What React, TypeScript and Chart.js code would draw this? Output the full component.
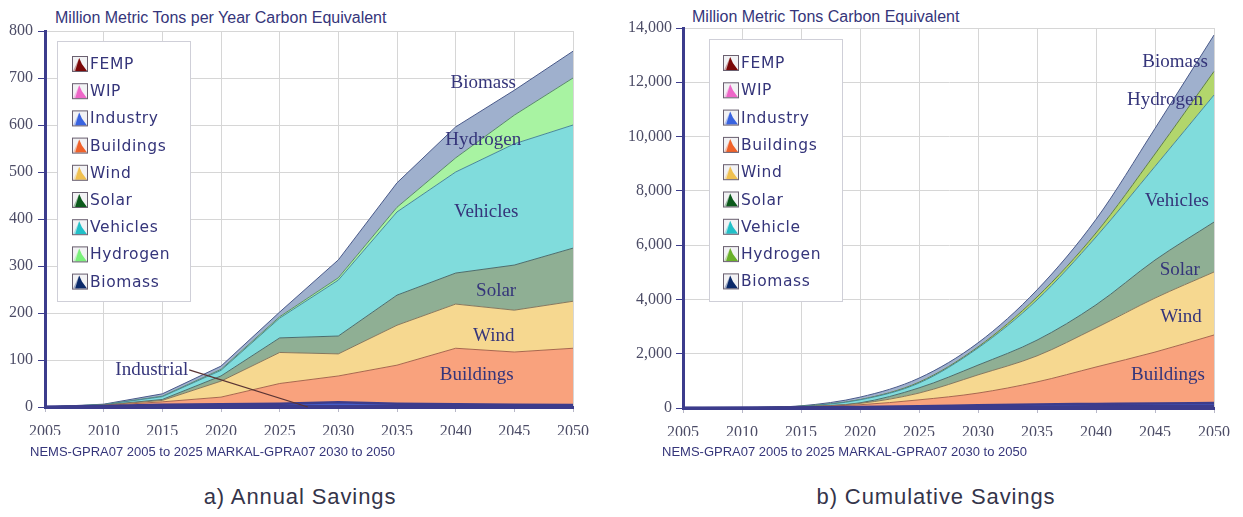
import React, { useEffect, useRef } from "react";
import { Chart, registerables } from "chart.js";

Chart.register(...registerables);

// ---- data -------------------------------------------------------------
const years = ["2005", "2010", "2015", "2020", "2025", "2030", "2035", "2040", "2045", "2050"];

// Annual savings (million metric tons carbon equivalent per year), stacked bottom to top
const annualFemp = [0, 0.5, 1, 1, 1, 1, 1, 1, 1, 1];
const annualWip = [0, 0.5, 1, 1, 1, 1, 1, 1, 1, 1];
const annualIndustry = [0, 1, 3, 4, 5, 8, 5, 4, 3, 2];
const annualBuildings = [0, 1, 6, 15, 43, 56, 82, 119, 112, 121];
const annualWind = [0, 1, 3, 34, 66, 47, 85, 94, 89, 100];
const annualSolar = [0, 0, 2, 11, 31, 38, 64, 66, 96, 113];
const annualVehicles = [0, 1, 6, 12, 42, 119, 177, 215, 258, 262];
const annualHydrogen = [0, 0, 1, 2, 3, 5, 10, 30, 61, 100];
const annualBiomass = [0, 1, 5, 7, 10, 38, 52, 66, 53, 57];

// Cumulative savings (million metric tons carbon equivalent), stacked bottom to top
const cumFemp = [0, 2, 5, 10, 15, 20, 25, 30, 35, 40];
const cumWip = [0, 1, 5, 10, 15, 20, 25, 30, 35, 40];
const cumIndustry = [0, 2, 10, 20, 30, 60, 80, 90, 100, 100];
const cumBuildings = [0, 3, 20, 80, 240, 450, 830, 1360, 1890, 2510];
const cumWind = [0, 2, 10, 50, 250, 670, 960, 1440, 1990, 2320];
const cumSolar = [0, 0, 5, 20, 190, 360, 580, 850, 1400, 1840];
const cumVehicles = [0, 2, 10, 110, 180, 630, 1480, 2500, 3450, 4680];
const cumHydrogen = [0, 0, 1, 10, 30, 40, 110, 150, 460, 870];
const cumBiomass = [0, 2, 14, 90, 150, 150, 260, 500, 940, 1340];

const annualTicks = { min: 0, max: 800, step: 100 };
const cumulativeTicks = { min: 0, max: 14000, step: 2000 };

// ---- styling ----------------------------------------------------------
const NAVY = "#3c3c8c";
const TEXT = "#35357a";
const SERIF = '"Liberation Serif", "Times New Roman", serif';
const SANS = '"Liberation Sans", Arial, sans-serif';

type Series = { label: string; values: number[]; fill: string; border: string; width: number };

const styleFemp = { fill: "#7a0c0c", border: NAVY, width: 2.5 };
const styleWip = { fill: "#ee7acd", border: NAVY, width: 2.5 };
const styleIndustry = { fill: "#4a68dc", border: NAVY, width: 2.5 };
const styleBuildings = { fill: "#f9a27d", border: "#a8684e", width: 1 };
const styleWind = { fill: "#f6d890", border: "#86785e", width: 1 };
const styleSolar = { fill: "#8faf94", border: "#4c6e6e", width: 1 };
const styleVehicles = { fill: "#80dcdc", border: "#4a8898", width: 1 };
const styleBiomass = { fill: "#9fb0cd", border: "#4a5a8a", width: 1 };

const annualSeries: Series[] = [
  { label: "FEMP", values: annualFemp, ...styleFemp },
  { label: "WIP", values: annualWip, ...styleWip },
  { label: "Industry", values: annualIndustry, ...styleIndustry },
  { label: "Buildings", values: annualBuildings, ...styleBuildings },
  { label: "Wind", values: annualWind, ...styleWind },
  { label: "Solar", values: annualSolar, ...styleSolar },
  { label: "Vehicles", values: annualVehicles, ...styleVehicles },
  { label: "Hydrogen", values: annualHydrogen, fill: "#a8f3a2", border: "#5a8a6a", width: 1 },
  { label: "Biomass", values: annualBiomass, ...styleBiomass },
];

const cumulativeSeries: Series[] = [
  { label: "FEMP", values: cumFemp, ...styleFemp },
  { label: "WIP", values: cumWip, ...styleWip },
  { label: "Industry", values: cumIndustry, ...styleIndustry },
  { label: "Buildings", values: cumBuildings, ...styleBuildings },
  { label: "Wind", values: cumWind, ...styleWind },
  { label: "Solar", values: cumSolar, ...styleSolar },
  { label: "Vehicle", values: cumVehicles, ...styleVehicles },
  { label: "Hydrogen", values: cumHydrogen, fill: "#b2d66c", border: "#5f7f45", width: 1 },
  { label: "Biomass", values: cumBiomass, ...styleBiomass },
];

// legend icon colours (deeper than the area fills)
const annualIconColors: Record<string, string> = {
  FEMP: "#7a0808",
  WIP: "#ee66c8",
  Industry: "#3a64e0",
  Buildings: "#f0622a",
  Wind: "#f0c050",
  Solar: "#0c5a1c",
  Vehicles: "#22c0c8",
  Hydrogen: "#7af07a",
  Biomass: "#0c2a6a",
};
const cumulativeIconColors: Record<string, string> = {
  ...annualIconColors,
  Vehicle: "#22c0c8",
  Hydrogen: "#6ab02a",
};

type Note = { text: string; idx: number; value: number };
type Pointer = { text: string; idx: number; value: number; toIdx: number; toValue: number };

const annualNotes: Note[] = [
  { text: "Biomass", idx: 7.47, value: 689 },
  { text: "Hydrogen", idx: 7.47, value: 568 },
  { text: "Vehicles", idx: 7.52, value: 415 },
  { text: "Solar", idx: 7.69, value: 247 },
  { text: "Wind", idx: 7.65, value: 151 },
  { text: "Buildings", idx: 7.36, value: 68 },
];
const annualPointer: Pointer = { text: "Industrial", idx: 1.82, value: 79, toIdx: 4.48, toValue: 0 };

const cumulativeNotes: Note[] = [
  { text: "Biomass", idx: 8.34, value: 12750 },
  { text: "Hydrogen", idx: 8.17, value: 11350 },
  { text: "Vehicles", idx: 8.37, value: 7630 },
  { text: "Solar", idx: 8.42, value: 5085 },
  { text: "Wind", idx: 8.44, value: 3350 },
  { text: "Buildings", idx: 8.22, value: 1215 },
];

type LegendBox = { x: number; y: number; w: number; h: number; rowY: number; rowStep: number; iconX: number; textX: number };

type PanelProps = {
  series: Series[];
  iconColors: Record<string, string>;
  ticks: { min: number; max: number; step: number };
  notes: Note[];
  pointer?: Pointer;
  legendBox: LegendBox;
  smooth: boolean;
  left: number;
  width: number;
  axisWidth: number;
  padding: { left: number; right: number; top: number; bottom: number };
  thousands: boolean;
};

function drawIcon(ctx: CanvasRenderingContext2D, x: number, y: number, s: number, color: string) {
  ctx.fillStyle = "#f2f2f4";
  ctx.fillRect(x, y, s, s);
  ctx.fillStyle = color;
  ctx.globalAlpha = 0.35;
  ctx.beginPath();
  ctx.moveTo(x + 1, y + s - 1);
  ctx.lineTo(x + s * 0.45, y + 2);
  ctx.lineTo(x + s * 0.45, y + s - 1);
  ctx.closePath();
  ctx.fill();
  ctx.globalAlpha = 1;
  ctx.beginPath();
  ctx.moveTo(x + s * 0.2, y + s - 1);
  ctx.lineTo(x + s * 0.45, y + 2);
  ctx.lineTo(x + s * 0.62, y + s * 0.5);
  ctx.lineTo(x + s - 1, y + s - 1);
  ctx.closePath();
  ctx.fill();
  ctx.strokeStyle = "#6a6070";
  ctx.lineWidth = 1;
  ctx.strokeRect(x + 0.5, y + 0.5, s - 1, s - 1);
}

function ChartPanel(props: PanelProps) {
  const ref = useRef<HTMLCanvasElement | null>(null);

  useEffect(() => {
    const canvas = ref.current;
    if (!canvas) return;
    const { series, iconColors, ticks, notes, pointer, legendBox, smooth, axisWidth, padding, thousands } = props;

    const overlay = {
      id: "overlay",
      afterDraw(chart: any) {
        const ctx: CanvasRenderingContext2D = chart.ctx;
        const xs = chart.scales.x;
        const ys = chart.scales.y;
        ctx.save();

        // in-plot area labels
        ctx.font = `19px ${SERIF}`;
        ctx.fillStyle = TEXT;
        ctx.textAlign = "center";
        ctx.textBaseline = "middle";
        notes.forEach((n) => {
          ctx.fillText(n.text, xs.getPixelForValue(n.idx), ys.getPixelForValue(n.value));
        });
        if (pointer) {
          const px = xs.getPixelForValue(pointer.idx);
          const py = ys.getPixelForValue(pointer.value);
          ctx.fillText(pointer.text, px, py);
          const tw = ctx.measureText(pointer.text).width;
          ctx.strokeStyle = "#5a3434";
          ctx.lineWidth = 1.2;
          ctx.beginPath();
          ctx.moveTo(px + tw / 2 + 1, py);
          ctx.lineTo(xs.getPixelForValue(pointer.toIdx), ys.getPixelForValue(pointer.toValue));
          ctx.stroke();
        }

        // legend box
        const L = legendBox;
        ctx.fillStyle = "#ffffff";
        ctx.fillRect(L.x, L.y, L.w, L.h);
        ctx.strokeStyle = "#cfcfd8";
        ctx.lineWidth = 1;
        ctx.strokeRect(L.x + 0.5, L.y + 0.5, L.w, L.h);
        ctx.textAlign = "left";
        ctx.textBaseline = "middle";
        ctx.font = `15.5px "DejaVu Sans", Verdana, sans-serif`;
        (ctx as any).letterSpacing = "0.6px";
        series.forEach((s, i) => {
          const cy = L.rowY + i * L.rowStep;
          drawIcon(ctx, L.iconX, cy - 8, 16, iconColors[s.label] || s.fill);
          ctx.fillStyle = TEXT;
          ctx.fillText(s.label, L.textX, cy + 1);
        });
        (ctx as any).letterSpacing = "0px";
        ctx.restore();
      },
    };

    const chart = new Chart(canvas, {
      type: "line",
      data: {
        labels: years,
        datasets: series.map((s, i) => ({
          label: s.label,
          data: s.values,
          backgroundColor: s.fill,
          borderColor: s.border,
          borderWidth: s.width,
          fill: i === 0 ? "origin" : "-1",
          pointRadius: 0,
          tension: 0,
          cubicInterpolationMode: smooth ? "monotone" : "default",
        })),
      },
      options: {
        animation: false,
        responsive: false,
        devicePixelRatio: 1,
        layout: { padding },
        plugins: {
          legend: { display: false },
          tooltip: { enabled: false },
        },
        scales: {
          x: {
            grid: { color: "#d6d6d6", lineWidth: 1, tickColor: "#b8b8c8", tickLength: 5 },
            border: { color: NAVY, width: 3 },
            ticks: {
              font: { family: SERIF, size: 16 },
              color: "#4c4c66",
              padding: 10,
              maxRotation: 0,
              autoSkip: false,
            },
            afterFit: (s: any) => {
              s.height = 28;
            },
          },
          y: {
            stacked: true,
            min: ticks.min,
            max: ticks.max,
            grid: { color: "#d6d6d6", lineWidth: 1, tickColor: NAVY, tickLength: 7 },
            border: { color: NAVY, width: 3 },
            ticks: {
              stepSize: ticks.step,
              font: { family: SERIF, size: 16 },
              color: "#4c4c66",
              padding: thousands ? 4 : 5,
              callback: (v: any) => (thousands ? Number(v).toLocaleString("en-US") : String(v)),
            },
            afterFit: (s: any) => {
              s.width = axisWidth;
            },
          },
        },
      },
      plugins: [overlay],
    } as any);

    return () => chart.destroy();
  }, [props]);

  return (
    <canvas
      ref={ref}
      width={props.width}
      height={470}
      style={{ position: "absolute", left: props.left, top: 0, width: props.width, height: 470 }}
    />
  );
}

const textBase: React.CSSProperties = { position: "absolute", whiteSpace: "nowrap", margin: 0 };

const annualProps: PanelProps = {
  series: annualSeries,
  iconColors: annualIconColors,
  ticks: annualTicks,
  notes: annualNotes,
  pointer: annualPointer,
  legendBox: { x: 57, y: 41, w: 133, h: 260, rowY: 64, rowStep: 27.2, iconX: 72, textX: 90 },
  smooth: false,
  left: 0,
  width: 620,
  axisWidth: 45,
  padding: { left: 0, right: 47, top: 31, bottom: 35 },
  thousands: false,
};

const cumulativeProps: PanelProps = {
  series: cumulativeSeries,
  iconColors: cumulativeIconColors,
  ticks: cumulativeTicks,
  notes: cumulativeNotes,
  legendBox: { x: 89, y: 39, w: 133, h: 262, rowY: 63, rowStep: 27.3, iconX: 103, textX: 121 },
  smooth: true,
  left: 620,
  width: 623,
  axisWidth: 63,
  padding: { left: 0, right: 29, top: 28, bottom: 34 },
  thousands: true,
};

export default function App() {
  return (
    <div style={{ position: "fixed", left: 0, top: 0, width: 1243, height: 517, background: "#ffffff", overflow: "hidden" }}>
      <div style={{ ...textBase, left: 55, top: 8, font: `16px ${SANS}`, lineHeight: "20px", color: TEXT }}>
        Million Metric Tons per Year Carbon Equivalent
      </div>
      <div style={{ ...textBase, left: 692, top: 7, font: `16px ${SANS}`, lineHeight: "20px", color: TEXT }}>
        Million Metric Tons Carbon Equivalent
      </div>
      <ChartPanel {...annualProps} />
      <ChartPanel {...cumulativeProps} />
      <div style={{ ...textBase, left: 30, top: 444, font: `13px ${SANS}`, lineHeight: "16px", color: TEXT }}>
        NEMS-GPRA07 2005 to 2025 MARKAL-GPRA07 2030 to 2050
      </div>
      <div style={{ ...textBase, left: 662, top: 444, font: `13px ${SANS}`, lineHeight: "16px", color: TEXT }}>
        NEMS-GPRA07 2005 to 2025 MARKAL-GPRA07 2030 to 2050
      </div>
      <div
        style={{
          ...textBase,
          left: 300,
          top: 484,
          transform: "translateX(-50%)",
          font: `22px ${SANS}`,
          lineHeight: "26px",
          letterSpacing: "0.9px",
          color: "#34344a",
        }}
      >
        a) Annual Savings
      </div>
      <div
        style={{
          ...textBase,
          left: 936,
          top: 484,
          transform: "translateX(-50%)",
          font: `22px ${SANS}`,
          lineHeight: "26px",
          letterSpacing: "0.9px",
          color: "#34344a",
        }}
      >
        b) Cumulative Savings
      </div>
    </div>
  );
}
